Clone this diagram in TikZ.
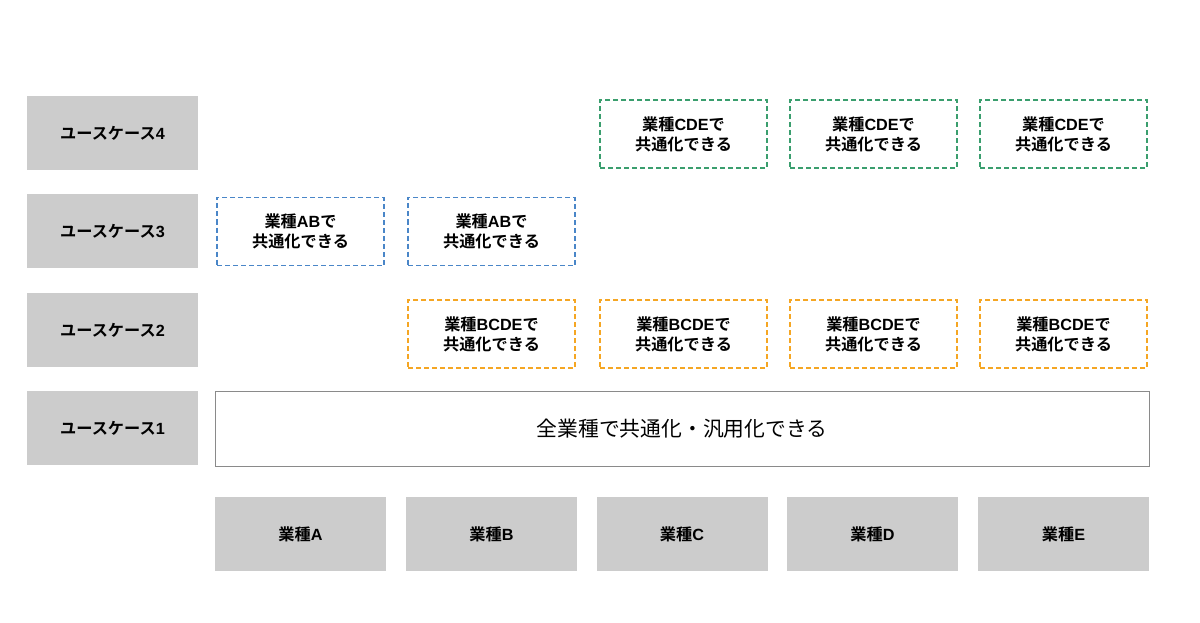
\documentclass[tikz,border=0pt]{standalone}
\usepackage{fontspec}
\setmainfont{Noto Sans CJK JP}
\newfontfamily\jpbold{Noto Sans CJK JP Bold}
\newfontfamily\latinfam{Liberation Sans}
\newcommand\lt[1]{{\latinfam\bfseries #1}}
\definecolor{boxgray}{HTML}{CCCCCC}
\definecolor{edgegray}{HTML}{8A8A8A}
\definecolor{dblue}{HTML}{4A86C8}
\definecolor{dorange}{HTML}{F5A623}
\definecolor{dgreen}{HTML}{3A9E6E}
\begin{document}
\begin{tikzpicture}[x=1pt,y=-1pt,
  graybox/.style={fill=boxgray,draw=none,minimum width=171pt,minimum height=74pt,inner sep=0pt,font=\jpbold\fontsize{16.2}{20}\selectfont,text=black},
  dbox/.style={draw=#1,dashed,dash pattern=on 5pt off 3pt,line width=1.1pt,fill=white,minimum width=167pt,minimum height=68pt,inner sep=0pt,align=center,font=\jpbold\fontsize{16.2}{20}\selectfont,text=black},
  ]
\useasboundingbox (0,0) rectangle (1200,623);
\fill[white] (0,0) rectangle (1200,623);
% use case labels
\node[graybox] (uc4) at (112.5,133) {ユースケース\lt{4}};
\node[graybox] (uc3) at (112.5,231) {ユースケース\lt{3}};
\node[graybox] (uc2) at (112.5,330) {ユースケース\lt{2}};
\node[graybox] (uc1) at (112.5,428) {ユースケース\lt{1}};
% industries
\node[graybox] (a) at (300.5,534) {業種\lt{A}};
\node[graybox] (b) at (491.5,534) {業種\lt{B}};
\node[graybox] (c) at (682,534) {業種\lt{C}};
\node[graybox] (d) at (872.5,534) {業種\lt{D}};
\node[graybox] (e) at (1063.5,534) {業種\lt{E}};
% use case 1
\node[draw=edgegray,line width=1pt,minimum width=934pt,minimum height=75pt,inner sep=0pt,font=\fontsize{20.8}{24}\selectfont] (all) at (682,428.5) {全業種で共通化・汎用化できる};
% use case 2
\node[dbox=dorange] (b2) at (491.5,334) {業種\lt{BCDE}で\\共通化できる};
\node[dbox=dorange] (c2) at (683.5,334) {業種\lt{BCDE}で\\共通化できる};
\node[dbox=dorange] (d2) at (873.5,334) {業種\lt{BCDE}で\\共通化できる};
\node[dbox=dorange] (e2) at (1063.5,334) {業種\lt{BCDE}で\\共通化できる};
% use case 3
\node[dbox=dblue] (a3) at (300.5,231.5) {業種\lt{AB}で\\共通化できる};
\node[dbox=dblue] (b3) at (491.5,231.5) {業種\lt{AB}で\\共通化できる};
% use case 4
\node[dbox=dgreen] (c4) at (683.5,134) {業種\lt{CDE}で\\共通化できる};
\node[dbox=dgreen] (d4) at (873.5,134) {業種\lt{CDE}で\\共通化できる};
\node[dbox=dgreen] (e4) at (1063.5,134) {業種\lt{CDE}で\\共通化できる};
\end{tikzpicture}
\end{document}
